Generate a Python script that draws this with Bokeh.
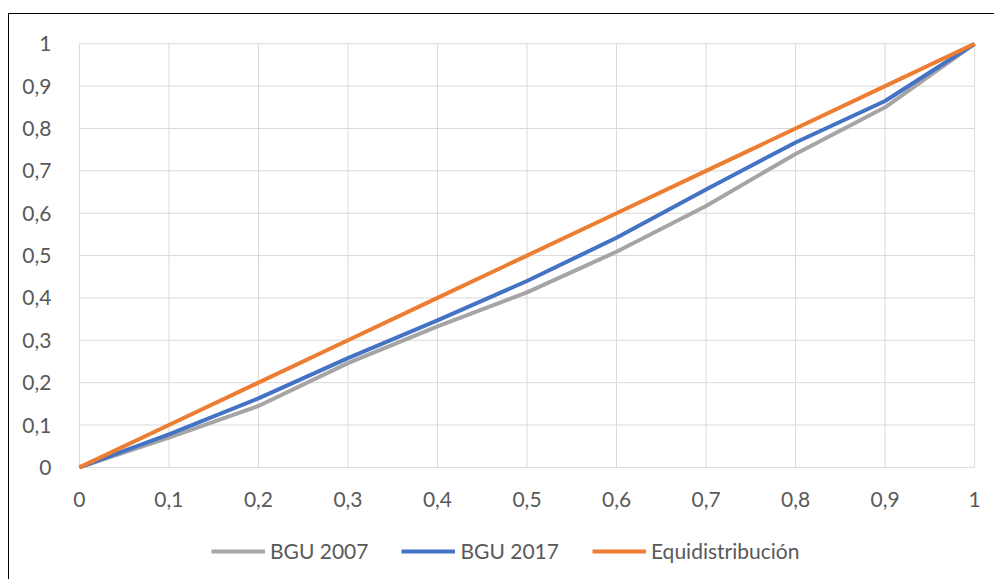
from bokeh.plotting import figure
from bokeh.models import Range1d, FixedTicker, Legend, LegendItem
from bokeh.core.properties import value
from bokeh.embed import file_html
from bokeh.resources import INLINE

# data
x_vals = [0.0, 0.1, 0.2, 0.3, 0.4, 0.5, 0.6, 0.7, 0.8, 0.9, 1.0]
bgu_2007 = [0.0, 0.070, 0.145, 0.246, 0.333, 0.413, 0.509, 0.617, 0.740, 0.850, 1.0]
bgu_2017 = [0.0, 0.078, 0.163, 0.258, 0.347, 0.440, 0.542, 0.656, 0.767, 0.865, 1.0]
equi = [0.0, 0.1, 0.2, 0.3, 0.4, 0.5, 0.6, 0.7, 0.8, 0.9, 1.0]
series_names = ["BGU 2007", "BGU 2017", "Equidistribución"]
ticks = [0, 0.1, 0.2, 0.3, 0.4, 0.5, 0.6, 0.7, 0.8, 0.9, 1]
tick_labels = ["0", "0,1", "0,2", "0,3", "0,4", "0,5", "0,6", "0,7", "0,8", "0,9", "1"]

FONT = "Lato"
TXT = "#595959"
GRID = "#d9d9d9"
n = len(ticks)
lo, hi = ticks[0], ticks[-1]

p = figure(frame_width=931, frame_height=535, output_backend="svg", toolbar_location=None,
           x_range=Range1d(-0.02, 1.02), y_range=Range1d(-0.26, 1.003),
           x_axis_location=None,
           min_border_left=52, min_border_right=2, min_border_top=28, min_border_bottom=2,
           background_fill_color="white", border_fill_color="white",
           styles={"border-left": "1px solid black", "border-top": "1px solid black",
                   "margin-top": "13px", "margin-left": "8px"})
p.outline_line_color = None
p.grid.visible = False

ax = p.yaxis[0]
ax.ticker = FixedTicker(ticks=ticks)
ax.major_label_overrides = {t: l for t, l in zip(ticks, tick_labels)}
ax.axis_line_color = None
ax.major_tick_line_color = None
ax.minor_tick_line_color = None
ax.major_label_text_font = FONT
ax.major_label_text_font_size = "21px"
ax.major_label_text_color = TXT
ax.major_label_standoff = 4

# gridlines (from the tick arrays)
p.segment(x0=[lo] * n, y0=ticks, x1=[hi] * n, y1=ticks, line_color=GRID, line_width=1)
p.segment(x0=ticks, y0=[lo] * n, x1=ticks, y1=[hi] * n, line_color=GRID, line_width=1)

# x tick labels
p.text(x=ticks, y=[lo - 0.0756] * n, text=tick_labels, text_align="center",
       text_baseline="middle", text_font=value(FONT), text_font_size=value("21px"),
       text_color=TXT)

r1 = p.line(x_vals, bgu_2007, line_color="#A5A5A5", line_width=4)
r2 = p.line(x_vals, bgu_2017, line_color="#4472C4", line_width=4)
r3 = p.line(x_vals, equi, line_color="#ED7D31", line_width=4)

legend = Legend(items=[LegendItem(label=series_names[0], renderers=[r1]),
                       LegendItem(label=series_names[1], renderers=[r2]),
                       LegendItem(label=series_names[2], renderers=[r3])],
                orientation="horizontal", location=(150, 14),
                label_text_font=FONT, label_text_font_size="21px", label_text_color=TXT,
                glyph_width=54, label_standoff=5, spacing=33,
                margin=0, padding=5, border_line_color=None,
                background_fill_alpha=0)
p.add_layout(legend, "center")

open("out.html", "w").write(file_html(p, INLINE))
